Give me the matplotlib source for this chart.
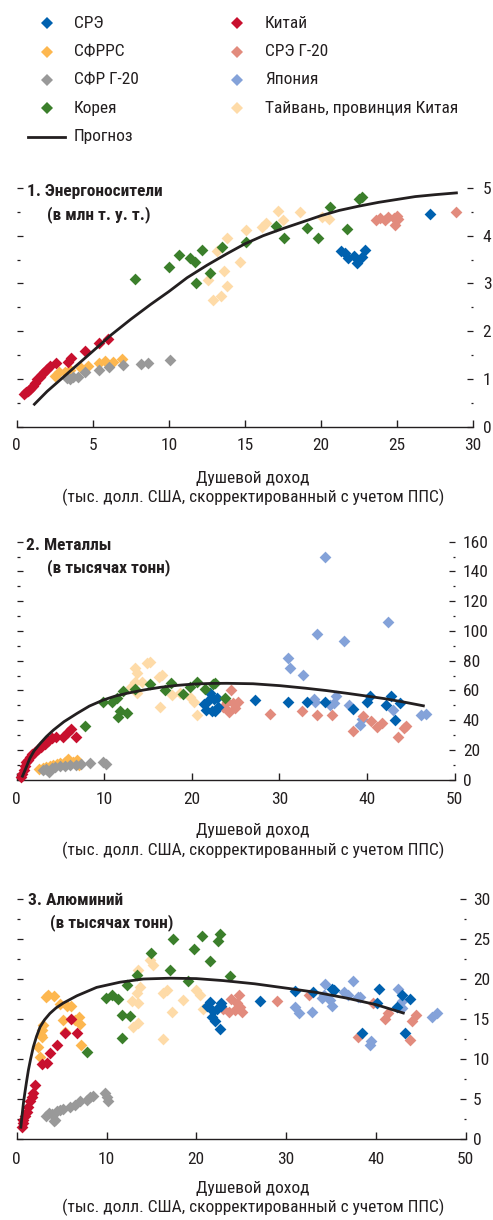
import matplotlib
matplotlib.use('Agg')
import matplotlib.pyplot as plt
from matplotlib.lines import Line2D
from matplotlib.ticker import MultipleLocator
from matplotlib import font_manager

available = {f.name for f in font_manager.fontManager.ttflist}
FONT, FS = 'Liberation Sans', 11.2
for cand, size in [('Arial Narrow', 12.5), ('Liberation Sans Narrow', 12.5),
                   ('Roboto Condensed', 12.5), ('PT Sans Narrow', 13.0),
                   ('Fira Sans Condensed', 12.0), ('IBM Plex Sans Condensed', 12.0)]:
    if cand in available:
        FONT, FS = cand, size
        break
plt.rcParams['font.family'] = [FONT, 'DejaVu Sans']

# ---------------- series ----------------
series_names = ['СРЭ', 'СФРРС', 'СФР Г-20', 'Корея', 'Китай', 'СРЭ Г-20', 'Япония',
                'Тайвань, провинция Китая']
series_colors = ['#0061AF', '#FDB74F', '#999999', '#3B7F2B', '#C8102E', '#E28B7D',
                 '#84A2D9', '#FEDBA8']
forecast_name = 'Прогноз'

# ---------------- panel 1: energy ----------------
e_cn_x = [0.5, 0.6, 0.75, 0.9, 1.05, 1.2, 1.35, 1.5, 1.65, 1.8, 2.0, 2.2, 2.6, 3.4, 3.6, 4.5, 5.4, 6.0]
e_cn_y = [0.68, 0.72, 0.74, 0.78, 0.85, 0.92, 1.0, 1.05, 1.1, 1.15, 1.2, 1.27, 1.34, 1.36, 1.43, 1.59, 1.75, 1.84]
e_eme_x = [2.5, 2.8, 3.2, 3.5, 4.2, 4.7, 5.4, 5.8, 6.35, 6.9]
e_eme_y = [1.06, 1.15, 1.15, 1.19, 1.22, 1.27, 1.34, 1.38, 1.36, 1.41]
e_g20lic_x = [3.3, 3.5, 3.7, 4.05, 4.5, 5.4, 6.1, 7.0, 8.2, 8.65, 10.1]
e_g20lic_y = [1.01, 0.99, 1.04, 1.05, 1.15, 1.19, 1.25, 1.29, 1.31, 1.34, 1.4]
e_kor_x = [7.8, 10.0, 10.7, 11.4, 11.7, 12.2, 11.8, 12.7, 13.5, 15.1, 17.05, 17.6, 19.1, 19.8, 20.6, 21.7, 22.5, 22.7]
e_kor_y = [3.1, 3.35, 3.59, 3.53, 3.46, 3.7, 3.01, 3.21, 3.77, 3.86, 4.21, 3.95, 4.17, 3.95, 4.6, 4.14, 4.77, 4.81]
e_twn_x = [12.6, 12.9, 13.4, 13.8, 13.6, 13.2, 13.8, 14.7, 15.1, 16.1, 16.4, 17.5, 17.2, 18.6, 20.05, 20.5]
e_twn_y = [3.08, 2.66, 2.73, 2.94, 3.26, 3.67, 3.96, 3.46, 4.12, 4.19, 4.26, 4.32, 4.51, 4.49, 4.4, 4.36]
e_ae_x = [21.3, 21.6, 21.8, 22.2, 22.35, 22.7, 22.9, 27.2]
e_ae_y = [3.68, 3.63, 3.53, 3.58, 3.43, 3.55, 3.7, 4.45]
e_g20ae_x = [23.6, 23.9, 24.2, 24.4, 24.8, 25.0, 24.9, 25.1, 28.9]
e_g20ae_y = [4.32, 4.37, 4.32, 4.4, 4.37, 4.42, 4.23, 4.35, 4.49]
e_jpn_x = []
e_jpn_y = []
e_fc_x = [1.1, 2.0, 3.0, 4.0, 5.0, 6.2, 7.5, 8.8, 10.0, 11.2, 12.5, 13.8, 15.0, 16.2, 17.5, 18.8, 20.0, 21.2, 22.5, 23.8, 25.0, 26.2, 27.5, 29.0]
e_fc_y = [0.45, 0.74, 1.02, 1.30, 1.58, 1.92, 2.25, 2.56, 2.83, 3.12, 3.38, 3.62, 3.83, 4.0, 4.15, 4.29, 4.42, 4.53, 4.62, 4.70, 4.76, 4.82, 4.86, 4.9]

# ---------------- panel 2: metals ----------------
m_cn_x = [0.5, 0.65, 0.8, 0.95, 1.1, 1.3, 1.5, 1.8, 2.1, 2.4, 2.8, 3.2, 3.6, 4.0, 4.5, 5.3, 5.9, 6.2, 6.8]
m_cn_y = [2, 4, 6.5, 9.5, 12, 13.5, 15.5, 17.5, 18.5, 20.5, 22, 24, 26, 28, 29, 29, 32, 34, 29]
m_eme_x = [2.6, 3.0, 3.4, 3.8, 4.2, 4.6, 5.0, 5.5, 5.9, 6.4, 6.9, 7.1]
m_eme_y = [7, 8, 8.5, 9.5, 10, 10.5, 11, 12, 14, 12, 13, 10]
m_g20lic_x = [3.0, 3.4, 3.7, 4.0, 4.4, 5.0, 5.5, 6.1, 6.8, 7.3, 8.4, 9.8, 10.2]
m_g20lic_y = [6.5, 7.5, 5.5, 8, 8.5, 9, 9.5, 10, 10, 10.5, 11, 12, 10.5]
m_kor_x = [7.8, 9.9, 10.85, 11.5, 12.1, 11.6, 11.8, 12.6, 13.5, 15.2, 16.9, 17.6, 19.0, 19.8, 20.55, 21.5, 22.45, 22.64, 23.8]
m_kor_y = [36, 52.4, 52.4, 54.7, 59.8, 41.9, 46.4, 45.0, 60.8, 64.3, 60.3, 65.2, 57.6, 62.5, 65.9, 60.8, 64.3, 64.8, 54.7]
m_twn_x = [13.1, 13.5, 13.7, 13.5, 13.7, 14.3, 14.9, 15.2, 16.2, 16.6, 16.4, 17.7, 18.6, 19.8, 20.2, 20.6]
m_twn_y = [62.5, 74.9, 71.5, 65.9, 58.1, 66, 78.3, 79, 69.2, 70.4, 49.1, 56.9, 58.1, 55.8, 52.4, 43.5]
m_ae_x = [21.4, 21.6, 21.9, 22.1, 22.3, 22.5, 22.6, 22.9, 23.0, 27.2, 31.0, 33.1, 35.2, 38.4, 40.0, 40.3, 42.2, 42.8, 43.2, 43.8]
m_ae_y = [51, 47, 53, 58, 46, 54, 46, 55, 49, 53.5, 52.5, 52.5, 52, 47.5, 52.5, 56, 50, 56, 40, 51.5]
m_g20ae_x = [23.6, 24.0, 24.2, 24.5, 24.7, 24.9, 25.3, 28.9, 32.6, 34.3, 36.0, 38.4, 39.6, 40.5, 41.1, 41.7, 43.6, 44.2, 44.5]
m_g20ae_y = [49, 52.5, 45.5, 60, 51.5, 48, 52, 44.5, 46.5, 43.5, 43.5, 32.5, 42.5, 39.5, 35.5, 38, 29, 34.5, 36]
m_jpn_x = [31.0, 31.2, 32.7, 33.9, 34.1, 34.3, 35.2, 35.8, 36.2, 36.5, 37.4, 37.9, 39.2, 39.4, 42.4, 43.0, 46.2, 46.8]
m_jpn_y = [81.5, 75, 70.5, 54.5, 52, 98, 149.5, 50, 51.5, 56, 93, 50.5, 36.5, 40.5, 106, 47, 43.5, 44.5]
m_fc_x = [0.6, 0.8, 1.1, 1.5, 2.0, 2.7, 3.4, 4.2, 5.4, 6.9, 8.3, 9.9, 11.2, 12.6, 14.5, 16.4, 18.3, 20.2, 22.1, 24.0, 27.0, 30.1, 33.0, 35.4, 37.7, 40.0, 42.0, 44.3, 46.6]
m_fc_y = [1.5, 4.3, 8.5, 14.4, 19.5, 24.5, 29.0, 33.4, 39.0, 44.6, 49.5, 53.6, 56.1, 58.1, 60.3, 62.1, 63.4, 64.3, 64.7, 64.8, 64.5, 63.2, 61.5, 59.9, 58.1, 56.2, 54.5, 52.1, 49.5]

# ---------------- panel 3: aluminium ----------------
a_cn_x = [0.55, 0.65, 0.75, 0.9, 1.1, 1.3, 1.5, 1.7, 1.85, 2.05, 2.8, 3.35, 3.7, 4.45, 5.4, 6.1, 6.7]
a_cn_y = [1.5, 2.0, 2.4, 2.9, 3.4, 4.0, 4.7, 5.3, 5.7, 6.7, 9.4, 9.5, 10.7, 11.8, 13.2, 15.0, 13.3]
a_eme_x = [2.4, 2.6, 2.7, 2.8, 2.8, 2.9, 3.3, 3.5, 4.1, 4.8, 5.2, 5.4, 5.6, 6.1, 6.5, 6.9, 7.1, 7.2]
a_eme_y = [11.5, 10.3, 13.0, 12.7, 13.6, 14.2, 17.8, 18.0, 17.9, 16.9, 14.9, 13.4, 16.6, 16.6, 14.9, 15.2, 14.4, 11.7]
a_g20lic_x = [3.3, 3.6, 3.9, 4.1, 4.3, 4.5, 4.8, 5.2, 5.9, 6.5, 7.1, 7.8, 8.2, 8.5, 9.8, 10.0, 10.2]
a_g20lic_y = [2.9, 3.2, 3.1, 2.2, 2.4, 3.5, 3.6, 3.8, 4.0, 4.2, 4.8, 4.9, 5.2, 5.4, 5.8, 5.2, 4.7]
a_kor_x = [7.8, 9.9, 10.6, 11.3, 12.25, 11.7, 12.6, 11.7, 13.4, 15.0, 17.1, 17.4, 19.1, 19.7, 20.6, 21.5, 22.45, 22.64, 23.75]
a_kor_y = [10.9, 17.6, 18.0, 17.5, 19.25, 15.5, 15.4, 12.6, 20.5, 23.3, 21.1, 25.0, 19.7, 23.8, 25.4, 22.3, 24.7, 25.6, 20.4]
a_twn_x = [13.0, 13.5, 12.8, 13.4, 13.7, 13.5, 14.8, 15.2, 16.3, 16.7, 17.3, 16.3, 18.5, 20.0, 20.4, 20.8, 13.5]
a_twn_y = [14.0, 14.5, 17.2, 18.2, 19.0, 21.1, 22.4, 21.75, 18.2, 18.6, 15.9, 12.5, 17.4, 18.6, 18.0, 16.3, 17.0]
a_ae_x = [21.2, 21.5, 21.7, 21.9, 22.1, 22.3, 22.6, 22.7, 22.8, 27.1, 31.0, 33.0, 35.1, 35.3, 38.4, 40.1, 40.3, 42.3, 42.9, 43.2, 43.8]
a_ae_y = [16.6, 17.1, 15.3, 16.0, 14.7, 16.3, 13.8, 16.6, 17.0, 17.2, 18.5, 18.4, 18.7, 18.6, 13.2, 17.0, 18.8, 16.5, 18.0, 13.2, 17.5]
a_g20ae_x = [23.0, 23.6, 23.9, 24.3, 24.5, 24.7, 24.9, 25.1, 29.0, 32.5, 38.0, 39.7, 41.0, 41.4, 43.8, 44.0, 44.5]
a_g20ae_y = [16.3, 15.9, 17.5, 16.1, 17.0, 18.0, 16.5, 15.9, 17.3, 18.0, 12.8, 17.0, 15.0, 15.7, 12.4, 14.7, 15.5]
a_jpn_x = [31.0, 31.4, 32.9, 34.0, 34.2, 34.3, 34.9, 35.1, 36.4, 36.9, 37.5, 38.0, 38.2, 39.3, 39.4, 42.5, 42.9, 42.9, 46.2, 46.8]
a_jpn_y = [16.5, 15.8, 15.9, 17.6, 18.0, 19.4, 17.4, 16.6, 18.4, 18.0, 19.8, 17.7, 17.8, 11.8, 12.3, 18.7, 17.3, 16.4, 15.3, 15.7]
a_fc_x = [0.45, 0.6, 0.75, 0.9, 1.1, 1.3, 1.55, 1.85, 2.2, 2.6, 3.1, 3.7, 4.4, 5.2, 6.7, 8.9, 11.5, 14.1, 17.1, 20.0, 23.0, 26.5, 30.4, 33.5, 36.8, 40.0, 43.2]
a_fc_y = [1.3, 3.0, 4.5, 5.7, 7.2, 8.6, 10.0, 11.5, 12.8, 14.0, 14.9, 15.7, 16.4, 17.0, 17.9, 18.95, 19.6, 20.0, 20.1, 20.05, 19.8, 19.4, 18.8, 18.3, 17.6, 16.8, 15.7]

panel_titles = [('1. Энергоносители', '(в млн т. у. т.)'),
                ('2. Металлы', '(в тысячах тонн)'),
                ('3. Алюминий', '(в тысячах тонн)')]
xlabel1 = 'Душевой доход'
xlabel2 = '(тыс. долл. США, скорректированный с учетом ППС)'

# ---------------- figure ----------------
W, H = 493, 1220
fig = plt.figure(figsize=(W / 100, H / 100), dpi=100)
TXT = '#231F20'


def fx(px):
    return px / W


def fy(py):
    return 1 - py / H


def ax_rect(l, r, t, b):
    return [fx(l), fy(b), (r - l) / W, (b - t) / H]


panels = [
    dict(rect=ax_rect(16.7, 473, 188, 426.7), xlim=(0, 30), ylim=(0, 5), xt=5, ymaj=1, ymin=0.5,
         xpad=8, ypad=7, title_xy=[(26.7, 191.7), (47, 215)], xl_y=(478, 497),
         data=[(e_ae_x, e_ae_y), (e_eme_x, e_eme_y), (e_g20lic_x, e_g20lic_y), (e_kor_x, e_kor_y),
               (e_cn_x, e_cn_y), (e_g20ae_x, e_g20ae_y), (e_jpn_x, e_jpn_y), (e_twn_x, e_twn_y)],
         fc=(e_fc_x, e_fc_y)),
    dict(rect=ax_rect(16.7, 454.5, 541.7, 779.7), xlim=(0, 50), ylim=(0, 160), xt=10, ymaj=20, ymin=10,
         xpad=8.5, ypad=6, title_xy=[(26, 545), (47, 568)], xl_y=(830, 850),
         data=[(m_ae_x, m_ae_y), (m_eme_x, m_eme_y), (m_g20lic_x, m_g20lic_y), (m_kor_x, m_kor_y),
               (m_cn_x, m_cn_y), (m_g20ae_x, m_g20ae_y), (m_jpn_x, m_jpn_y), (m_twn_x, m_twn_y)],
         fc=(m_fc_x, m_fc_y)),
    dict(rect=ax_rect(16.7, 465.7, 899, 1139), xlim=(0, 50), ylim=(0, 30), xt=10, ymaj=5, ymin=2.5,
         xpad=9, ypad=5.3, title_xy=[(28, 900.7), (50, 923)], xl_y=(1188, 1207),
         data=[(a_ae_x, a_ae_y), (a_eme_x, a_eme_y), (a_g20lic_x, a_g20lic_y), (a_kor_x, a_kor_y),
               (a_cn_x, a_cn_y), (a_g20ae_x, a_g20ae_y), (a_jpn_x, a_jpn_y), (a_twn_x, a_twn_y)],
         fc=(a_fc_x, a_fc_y)),
]

# drawing order (bottom -> top) by series index
draw_order = [7, 6, 5, 0, 1, 2, 4, 3]
MS = 36

for i, p in enumerate(panels):
    ax = fig.add_axes(p['rect'])
    ax.set_xlim(*p['xlim'])
    ax.set_ylim(*p['ylim'])
    for s in ['top', 'right', 'left']:
        ax.spines[s].set_visible(False)
    ax.spines['bottom'].set_color(TXT)
    ax.spines['bottom'].set_linewidth(1.0)
    ax.xaxis.set_major_locator(MultipleLocator(p['xt']))
    ax.yaxis.set_major_locator(MultipleLocator(p['ymaj']))
    ax.yaxis.set_minor_locator(MultipleLocator(p['ymin']))
    ax.tick_params(axis='x', direction='in', length=5, width=1, color=TXT,
                   labelsize=FS, labelcolor=TXT, pad=p['xpad'])
    ax.tick_params(axis='y', which='both', direction='in', left=True, right=True,
                   labelleft=False, labelright=True, color=TXT, width=0.9,
                   labelsize=FS, labelcolor=TXT, pad=p['ypad'])
    ax.tick_params(axis='y', which='major', length=4)
    ax.tick_params(axis='y', which='minor', length=1.8)
    ax.patch.set_alpha(0)

    for k in draw_order:
        xs, ys = p['data'][k]
        if len(xs):
            ax.scatter(xs, ys, marker='D', s=MS, color=series_colors[k], linewidths=0,
                       zorder=3 + draw_order.index(k), clip_on=False)
    ax.plot(p['fc'][0], p['fc'][1], color=TXT, lw=2.0, zorder=20, clip_on=False,
            solid_capstyle='butt', solid_joinstyle='round')

    (t1x, t1y), (t2x, t2y) = p['title_xy']
    fig.text(fx(t1x), fy(t1y), panel_titles[i][0], fontsize=FS, fontweight='bold',
             color=TXT, ha='left', va='center')
    fig.text(fx(t2x), fy(t2y), panel_titles[i][1], fontsize=FS, fontweight='bold',
             color=TXT, ha='left', va='center')
    fig.text(fx(253), fy(p['xl_y'][0]), xlabel1, fontsize=FS, color=TXT, ha='center', va='center')
    fig.text(fx(253), fy(p['xl_y'][1]), xlabel2, fontsize=FS, color=TXT, ha='center', va='center')

# ---------------- legend (manual) ----------------
col1 = [0, 1, 2, 3]
col2 = [4, 5, 6, 7]
rows_y = [23, 52, 80, 108]
for r, k in enumerate(col1):
    fig.add_artist(Line2D([fx(47)], [fy(rows_y[r])], marker='D', markersize=MS ** 0.5,
                          color=series_colors[k], markeredgewidth=0, linestyle='none',
                          transform=fig.transFigure))
    fig.text(fx(74), fy(rows_y[r]), series_names[k], fontsize=FS, color=TXT, ha='left', va='center')
for r, k in enumerate(col2):
    fig.add_artist(Line2D([fx(237)], [fy(rows_y[r])], marker='D', markersize=MS ** 0.5,
                          color=series_colors[k], markeredgewidth=0, linestyle='none',
                          transform=fig.transFigure))
    fig.text(fx(265), fy(rows_y[r]), series_names[k], fontsize=FS, color=TXT, ha='left', va='center')
fig.add_artist(Line2D([fx(28), fx(65)], [fy(137), fy(137)], color=TXT, lw=2.0,
                      transform=fig.transFigure))
fig.text(fx(74), fy(137), forecast_name, fontsize=FS, color=TXT, ha='left', va='center')

fig.savefig('out.png', dpi=100)
